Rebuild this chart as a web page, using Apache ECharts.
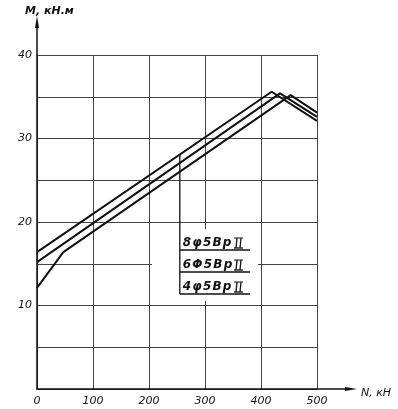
<!DOCTYPE html>
<html><head><meta charset="utf-8">
<script src="https://cdn.jsdelivr.net/npm/echarts@6/dist/echarts.min.js"></script>
<style>html,body{margin:0;padding:0;background:#fff}#c{width:398px;height:409px}</style>
</head><body><div id="c"></div>
<script>
const xTicks = [0, 100, 200, 300, 400, 500];
const yTicks = [10, 20, 30, 40];
const s8 = [[0, 16.4], [419, 35.6], [500, 32.1]];
const s6 = [[0, 15.2], [434, 35.4], [500, 32.6]];
const s4 = [[0, 12.1], [47, 16.4], [453, 35.2], [500, 33.1]];
const legendLabels = ['8φ5Вр', '6Φ5Вр', '4φ5Вр'];
const leaderN = 255;

const font = {fontFamily: 'DejaVu Sans', fontStyle: 'italic', color: '#111'};
const chart = echarts.init(document.getElementById('c'));
const G = {left: 37, top: 55, right: 81, bottom: 20};
function lineSeries(d) {
  return {type: 'line', data: d, symbol: 'none', lineStyle: {color: '#111', width: 2}, z: 5};
}
chart.setOption({
  animation: false,
  grid: G,
  xAxis: {type: 'value', min: 0, max: 500, interval: 100,
    axisLine: {show: true, onZero: false, lineStyle: {color: '#111', width: 1.5}},
    axisTick: {show: false},
    splitLine: {show: true, lineStyle: {color: '#444', width: 1}},
    axisLabel: Object.assign({fontSize: 11, margin: 7, formatter: v => xTicks.includes(v) ? String(v) : ''}, font)},
  yAxis: {type: 'value', min: 0, max: 40, interval: 5,
    axisLine: {show: true, lineStyle: {color: '#111', width: 1.5}},
    axisTick: {show: false},
    splitLine: {show: true, lineStyle: {color: '#444', width: 1}},
    axisLabel: Object.assign({fontSize: 11, margin: 5, formatter: v => yTicks.includes(v) ? String(v) : ''}, font)},
  series: [lineSeries(s8), lineSeries(s6), lineSeries(s4)]
});

const pTop = chart.convertToPixel({gridIndex: 0}, [0, 40]);
const pRight = chart.convertToPixel({gridIndex: 0}, [500, 0]);
function interp(d, x) {
  for (let i = 0; i < d.length - 1; i++) {
    if (x >= d[i][0] && x <= d[i + 1][0]) {
      const t = (x - d[i][0]) / (d[i + 1][0] - d[i][0]);
      return d[i][1] + t * (d[i + 1][1] - d[i][1]);
    }
  }
  return d[d.length - 1][1];
}
const lp = chart.convertToPixel({gridIndex: 0}, [leaderN, interp(s8, leaderN)]);
const boxL = 152, boxT = 229, boxR = 258, boxB = 301;
const rowY = [243, 265, 287];
const ulY = [250, 272, 294];
const g = [];
g.push({type: 'rect', shape: {x: boxL, y: boxT, width: boxR - boxL, height: boxB - boxT}, style: {fill: '#fff'}, z: 10});
g.push({type: 'line', shape: {x1: lp[0], y1: lp[1], x2: lp[0], y2: ulY[2]}, style: {stroke: '#111', lineWidth: 1.3}, z: 11});
legendLabels.forEach((t, i) => {
  g.push({type: 'line', shape: {x1: lp[0], y1: ulY[i], x2: 250, y2: ulY[i]}, style: {stroke: '#111', lineWidth: 1.3}, z: 11});
  g.push({type: 'text', x: lp[0] + 3, y: rowY[i], style: {text: t.split('').join('\u200A'), font: 'italic bold 12px "DejaVu Sans"', fill: '#111', verticalAlign: 'middle'}, z: 12});
});
legendLabels.forEach((t, i) => {
  const x = 234, y = rowY[i];
  g.push({type: 'polyline', shape: {points: [[x, y - 5], [x + 9, y - 5]]}, style: {stroke: '#111', lineWidth: 1}, z: 12});
  g.push({type: 'polyline', shape: {points: [[x, y + 5], [x + 9, y + 5]]}, style: {stroke: '#111', lineWidth: 1.3}, z: 12});
  g.push({type: 'polyline', shape: {points: [[x + 3, y - 5], [x + 2, y + 5]]}, style: {stroke: '#111', lineWidth: 1.3}, z: 12});
  g.push({type: 'polyline', shape: {points: [[x + 7, y - 5], [x + 6, y + 5]]}, style: {stroke: '#111', lineWidth: 1.3}, z: 12});
});
g.push({type: 'line', shape: {x1: pTop[0], y1: pTop[1], x2: pTop[0], y2: 24}, style: {stroke: '#111', lineWidth: 1.5}, z: 11});
g.push({type: 'polygon', shape: {points: [[pTop[0], 16], [pTop[0] - 2, 28], [pTop[0] + 2, 28]]}, style: {fill: '#111'}, z: 11});
g.push({type: 'line', shape: {x1: pRight[0], y1: pRight[1], x2: 350, y2: pRight[1]}, style: {stroke: '#111', lineWidth: 1.5}, z: 11});
g.push({type: 'polygon', shape: {points: [[357, pRight[1]], [345, pRight[1] - 2], [345, pRight[1] + 2]]}, style: {fill: '#111'}, z: 11});
g.push({type: 'text', x: 25, y: 11, style: {text: 'M, кН.м', font: 'italic bold 11px "DejaVu Sans"', fill: '#111', verticalAlign: 'middle'}, z: 11});
g.push({type: 'text', x: 361, y: 393, style: {text: 'N, кН', font: 'italic 11px "DejaVu Sans"', fill: '#111', verticalAlign: 'middle'}, z: 11});
chart.setOption({graphic: g});
</script></body></html>
